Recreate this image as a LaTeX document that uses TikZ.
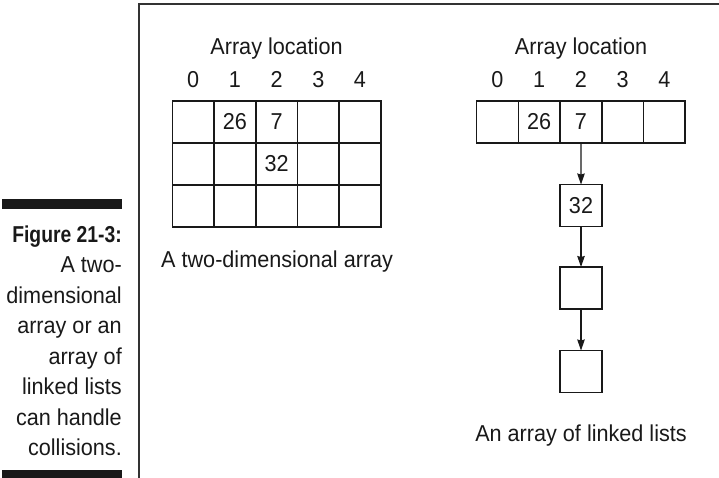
\documentclass[tikz,border=0pt]{standalone}
\usepackage{fontspec}
\setmainfont{Liberation Sans}[FakeStretch=0.94]
\newfontfamily\figfont{Liberation Sans}[FakeStretch=0.84]
\usetikzlibrary{arrows.meta}

\begin{document}
\begin{tikzpicture}[
    x=1pt, y=-1pt,
    >=Stealth,
    cell/.style={draw=black!90, line width=1.6pt, minimum width=41.7pt,
        minimum height=42pt, inner sep=0pt, outer sep=0pt},
    link/.style={line width=1.2pt, draw=black!90,
        -{Stealth[length=11pt, width=7.5pt, inset=1pt]}},
    txt/.style={font=\fontsize{23}{25}\selectfont, text=black!90, inner sep=0pt},
    capline/.style={txt, anchor=base east},
]

\useasboundingbox (0,0) rectangle (719,478);

% =============================================================================
% Frame and side caption
% =============================================================================
\draw[line width=1.5pt, black!80] (719,4) -- (139,4) -- (139,478);

\fill[black!90] (2,199) rectangle (122,209);
\fill[black!90] (2,470) rectangle (122,478);

\node[capline, font=\fontsize{23}{25}\figfont\bfseries] (cap-0) at (122,242)
    {Figure 21-3:};
\foreach \t [count=\i] in {A two-, dimensional, array or an, array of,
    linked lists, can handle, collisions.} {
    \node[capline] (cap-\i) at (122,{242+30.5*\i}) {\t};
}

% =============================================================================
% Scene 1: two-dimensional array
% =============================================================================
\node[txt, anchor=base] (g-title) at (276.5,55) {Array location};

% --- Grid cells ---
\foreach \r in {0,1,2} {
    \foreach \c in {0,...,4} {
        \node[cell] (g-\r-\c) at ({193.2+41.7*\c},{122+42*\r}) {};
    }
}

% --- Index labels ---
\foreach \c in {0,...,4} {
    \node[txt, anchor=base] (g-idx-\c) at ({193.2+41.7*\c},88) {\c};
}

% --- Stored values ---
\node[txt] (g-26) at (g-0-1) {26};
\node[txt] (g-7)  at (g-0-2) {7};
\node[txt] (g-32) at (g-1-2) {32};

\node[txt, anchor=base west] (g-cap) at (161,267) {A two-dimensional array};

% =============================================================================
% Scene 2: array of linked lists
% =============================================================================
\node[txt, anchor=base] (l-title) at (581,55) {Array location};

% --- Array row ---
\foreach \c in {0,...,4} {
    \node[cell] (a-\c) at ({497.5+41.7*\c},122) {};
    \node[txt, anchor=base] (a-idx-\c) at ({497.5+41.7*\c},88) {\c};
}
\node[txt] (a-26) at (a-1) {26};
\node[txt] (a-7)  at (a-2) {7};

% --- Chain hanging from slot 2 ---
\node[cell] (n-1) at (581,205.5) {};
\node[cell] (n-2) at (581,288) {};
\node[cell] (n-3) at (581,371.5) {};
\node[txt] (n-32) at (n-1) {32};

\draw[link] (a-2.south) -- (n-1.north);
\draw[link] (n-1.south) -- (n-2.north);
\draw[link] (n-2.south) -- (n-3.north);

\node[txt, anchor=base] (l-cap) at (581,441) {An array of linked lists};

\end{tikzpicture}
\end{document}
